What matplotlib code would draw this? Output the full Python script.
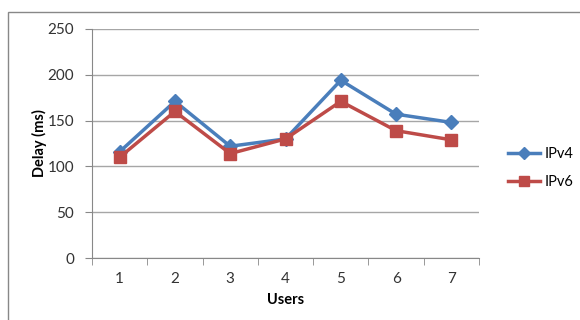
import matplotlib.pyplot as plt
from matplotlib.patches import Rectangle
from matplotlib.lines import Line2D

# delay per number of users
users = [1, 2, 3, 4, 5, 6, 7]
ipv4 = [116, 171, 122, 130, 194, 157, 148]
ipv6 = [110, 160, 114, 130, 171, 139, 129]

plt.rcParams['font.family'] = ['Lato', 'DejaVu Sans']

fig = plt.figure(figsize=(5.8, 3.2), dpi=100)
W, H = 580, 320
ax = fig.add_axes([92 / W, 1 - 258 / H, (479 - 92) / W, (258 - 29) / H])

# chart border
fig.patches.append(Rectangle((8 / W, -0.1), 1.2, 1 - 12 / H + 0.1, transform=fig.transFigure,
                             fill=False, edgecolor='#888888', linewidth=1.0))

ax.plot(users, ipv4, color='#4A7EBB', linewidth=2.5, marker='D', markersize=7, label='IPv4')
ax.plot(users, ipv6, color='#BE4B48', linewidth=2.5, marker='s', markersize=8, label='IPv6')

ax.set_xlim(0.5, 7.5)
ax.set_ylim(0, 250)
ax.set_yticks(range(0, 251, 50))
ax.set_xticks(users)
ax.set_xticks([x + 0.5 for x in range(0, 8)], minor=True)
ax.tick_params(axis='x', which='major', length=0, pad=10, labelsize=11, colors='#333333')
ax.tick_params(axis='x', which='minor', length=5, color='#888888')
ax.tick_params(axis='y', length=5, color='#888888', labelsize=11, labelcolor='#333333', pad=8)

ax.grid(axis='y', color='#a6a6a6', linewidth=1)
ax.set_axisbelow(True)
for s in ['top', 'right']:
    ax.spines[s].set_visible(False)
for s in ['left', 'bottom']:
    ax.spines[s].set_color('#888888')

ax.set_xlabel('Users', fontsize=10.5, fontweight='bold', labelpad=5)
ax.set_ylabel('Delay (ms)', fontsize=10.5, fontweight='bold', labelpad=0)

handles = [Line2D([], [], color='#4A7EBB', linewidth=2.5, marker='D', markersize=6),
           Line2D([], [], color='#BE4B48', linewidth=2.5, marker='s', markersize=7)]
fig.legend(handles, ['IPv4', 'IPv6'], loc='center left', bbox_to_anchor=(495 / W, 1 - 168 / H),
           frameon=False, fontsize=10.5, handlelength=2.2, handletextpad=0.3, labelspacing=1.0)

fig.savefig('out.png', dpi=100)
